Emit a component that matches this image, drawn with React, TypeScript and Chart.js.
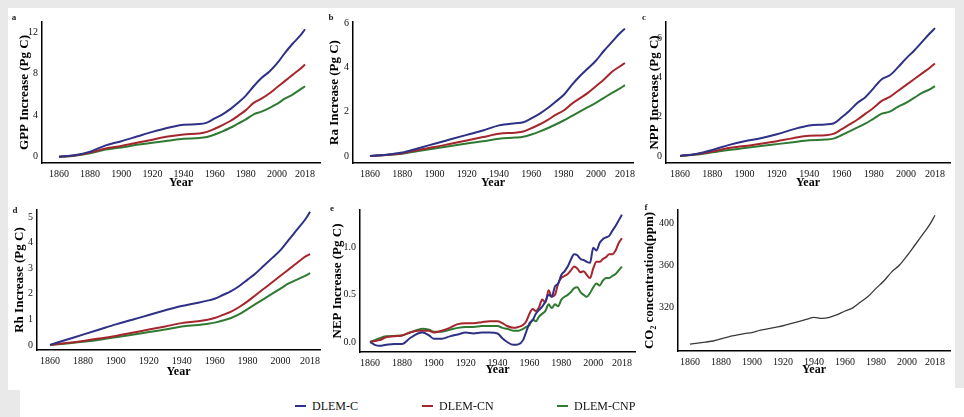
import React, { useEffect, useRef } from "react";
import { Chart, registerables } from "chart.js";
Chart.register(...registerables);

const FONT = "'Liberation Serif', 'Times New Roman', serif";

const SERIES_NAMES = ["DLEM-C", "DLEM-CN", "DLEM-CNP"];
const SERIES_COLORS = ["#2e3185", "#a5262c", "#2f7a33"];
const X_TICKS = [1860, 1880, 1900, 1920, 1940, 1960, 1980, 2000, 2018];

const YEARS = [1860, 1870, 1880, 1890, 1900, 1910, 1920, 1930, 1940, 1950, 1955, 1960, 1965, 1970, 1975, 1980, 1985, 1990, 1995, 2000, 2005, 2010, 2015, 2018];

const GPP_C = [0, 0.15, 0.5, 1.1, 1.5, 1.95, 2.4, 2.8, 3.1, 3.15, 3.3, 3.7, 4.1, 4.6, 5.2, 5.9, 6.8, 7.6, 8.2, 9.0, 10.0, 10.9, 11.7, 12.3];
const GPP_CN = [0, 0.12, 0.4, 0.8, 1.05, 1.35, 1.65, 1.95, 2.15, 2.25, 2.4, 2.7, 3.05, 3.45, 3.95, 4.5, 5.2, 5.6, 6.1, 6.7, 7.3, 7.9, 8.5, 8.9];
const GPP_CNP = [0, 0.1, 0.35, 0.7, 0.9, 1.15, 1.35, 1.55, 1.75, 1.8, 1.9, 2.15, 2.45, 2.8, 3.2, 3.6, 4.1, 4.35, 4.7, 5.1, 5.6, 6.0, 6.5, 6.8];

const RA_C = [0, 0.05, 0.15, 0.35, 0.55, 0.75, 0.95, 1.15, 1.38, 1.48, 1.52, 1.7, 1.9, 2.15, 2.45, 2.75, 3.2, 3.6, 3.95, 4.3, 4.75, 5.15, 5.55, 5.75];
const RA_CN = [0, 0.04, 0.12, 0.27, 0.4, 0.55, 0.7, 0.85, 1.0, 1.05, 1.1, 1.25, 1.42, 1.62, 1.85, 2.05, 2.35, 2.6, 2.85, 3.15, 3.45, 3.8, 4.05, 4.2];
const RA_CNP = [0, 0.04, 0.1, 0.22, 0.33, 0.45, 0.56, 0.66, 0.78, 0.83, 0.87, 0.97, 1.1, 1.25, 1.42, 1.6, 1.8, 2.0, 2.2, 2.4, 2.62, 2.85, 3.05, 3.2];

const NPP_C = [0, 0.1, 0.3, 0.55, 0.75, 0.9, 1.1, 1.35, 1.55, 1.6, 1.65, 1.95, 2.3, 2.7, 3.0, 3.45, 3.9, 4.1, 4.5, 4.95, 5.35, 5.8, 6.25, 6.5];
const NPP_CN = [0, 0.08, 0.22, 0.4, 0.5, 0.62, 0.75, 0.9, 1.02, 1.05, 1.12, 1.35, 1.6, 1.85, 2.15, 2.45, 2.8, 3.0, 3.3, 3.6, 3.9, 4.2, 4.5, 4.7];
const NPP_CNP = [0, 0.07, 0.18, 0.3, 0.4, 0.5, 0.6, 0.7, 0.8, 0.83, 0.88, 1.05, 1.25, 1.45, 1.65, 1.9, 2.15, 2.25, 2.5, 2.7, 2.95, 3.2, 3.4, 3.55];

const RH_C = [0, 0.2, 0.4, 0.6, 0.8, 0.98, 1.17, 1.35, 1.52, 1.65, 1.72, 1.8, 1.95, 2.1, 2.3, 2.55, 2.8, 3.1, 3.4, 3.7, 4.1, 4.5, 4.9, 5.2];
const RH_CN = [0, 0.07, 0.15, 0.25, 0.35, 0.47, 0.6, 0.72, 0.85, 0.92, 0.97, 1.05, 1.17, 1.3, 1.48, 1.7, 1.95, 2.2, 2.45, 2.7, 2.95, 3.2, 3.45, 3.55];
const RH_CNP = [0, 0.05, 0.12, 0.2, 0.3, 0.4, 0.5, 0.6, 0.72, 0.78, 0.82, 0.87, 0.95, 1.05, 1.2, 1.4, 1.6, 1.8, 2.0, 2.2, 2.4, 2.55, 2.7, 2.8];

const NEP_YEARS = [1860, 1863, 1866, 1870, 1875, 1880, 1885, 1890, 1893, 1897, 1900, 1905, 1910, 1915, 1920, 1925, 1930, 1935, 1940, 1943, 1946, 1950, 1953, 1956, 1958, 1960, 1962, 1964, 1966, 1968, 1970, 1972, 1974, 1976, 1978, 1980, 1982, 1984, 1986, 1988, 1990, 1992, 1994, 1996, 1998, 2000, 2002, 2004, 2006, 2008, 2010, 2012, 2014, 2016, 2018];
const NEP_C = [0, -0.03, -0.04, -0.03, -0.02, -0.02, 0.04, 0.09, 0.1, 0.07, 0.035, 0.035, 0.06, 0.08, 0.1, 0.09, 0.1, 0.1, 0.09, 0.04, 0.0, -0.03, -0.025, 0.02, 0.11, 0.2, 0.23, 0.3, 0.34, 0.375, 0.43, 0.5, 0.48, 0.59, 0.62, 0.71, 0.75, 0.8, 0.875, 0.93, 0.92, 0.88, 0.87, 0.85, 0.84, 1.0, 0.97, 1.05, 1.09, 1.11, 1.125, 1.18, 1.23, 1.29, 1.35];
const NEP_CN = [0, 0.01, 0.02, 0.05, 0.06, 0.07, 0.1, 0.12, 0.12, 0.12, 0.1, 0.12, 0.15, 0.19, 0.2, 0.2, 0.21, 0.22, 0.22, 0.2, 0.17, 0.15, 0.16, 0.18, 0.22, 0.3, 0.35, 0.33, 0.37, 0.45, 0.42, 0.55, 0.48, 0.5, 0.62, 0.68, 0.7, 0.72, 0.76, 0.8, 0.78, 0.74, 0.75, 0.71, 0.68, 0.78, 0.85, 0.85, 0.88, 0.9, 0.93, 0.93, 0.97, 1.05, 1.1];
const NEP_CNP = [0, 0.02, 0.04, 0.06, 0.065, 0.07, 0.1, 0.13, 0.14, 0.13, 0.11, 0.11, 0.13, 0.15, 0.16, 0.16, 0.17, 0.17, 0.17, 0.15, 0.14, 0.12, 0.12, 0.14, 0.16, 0.18, 0.24, 0.22, 0.27, 0.3, 0.33, 0.4, 0.36, 0.4, 0.38, 0.45, 0.48, 0.5, 0.53, 0.57, 0.58, 0.53, 0.5, 0.48, 0.52, 0.58, 0.62, 0.6, 0.65, 0.68, 0.68, 0.7, 0.72, 0.76, 0.8];

const CO2_YEARS = [1860, 1870, 1875, 1880, 1885, 1890, 1895, 1900, 1905, 1910, 1915, 1920, 1925, 1930, 1935, 1940, 1945, 1950, 1955, 1960, 1965, 1970, 1975, 1980, 1985, 1990, 1995, 2000, 2005, 2010, 2015, 2018];
const CO2_PPM = [285.5, 287.5, 288.5, 290.5, 292.5, 294, 295.5, 296.5, 298.5, 300, 301.5, 303, 305, 307, 309, 311, 310, 311, 313.5, 317, 320, 325.5, 331, 338.5, 345.5, 354, 360.5, 369.5, 379.5, 389.5, 400, 408];

type Series = { label: string; x: number[]; y: number[]; color: string; width: number };
type Panel = {
  letter: string;
  yTitle: string;
  frame: { L: number; T: number; W: number; H: number };
  area: { l: number; t: number; r: number; b: number };
  xMin: number; xMax: number; yMin: number; yMax: number;
  yTicks: number[];
  yTitleX: number;
  yearY: number;
  letterPos: [number, number];
  fmt?: (v: number) => string;
  series: Series[];
};

const trio = (x: number[], c: number[], cn: number[], cnp: number[]): Series[] => [
  { label: SERIES_NAMES[0], x, y: c, color: SERIES_COLORS[0], width: 2 },
  { label: SERIES_NAMES[1], x, y: cn, color: SERIES_COLORS[1], width: 2 },
  { label: SERIES_NAMES[2], x, y: cnp, color: SERIES_COLORS[2], width: 2 },
];

const PANELS: Panel[] = [
  { letter: "a", yTitle: "GPP Increase (Pg C)", frame: { L: 8, T: 8, W: 322, H: 190 }, area: { l: 42, t: 22, r: 320, b: 163 },
    xMin: 1849.1, xMax: 2027.6, yMin: -0.6, yMax: 13.0, yTicks: [0, 4, 8, 12], yTitleX: 25, yearY: 183, letterPos: [14, 17],
    series: trio(YEARS, GPP_C, GPP_CN, GPP_CNP) },
  { letter: "b", yTitle: "Ra Increase (Pg C)", frame: { L: 320, T: 8, W: 322, H: 190 }, area: { l: 353, t: 22, r: 633, b: 163 },
    xMin: 1849.5, xMax: 2023, yMin: -0.32, yMax: 6.05, yTicks: [0, 2, 4, 6], yTitleX: 335, yearY: 183, letterPos: [331, 17],
    series: trio(YEARS, RA_C, RA_CN, RA_CNP) },
  { letter: "c", yTitle: "NPP Increase (Pg C)", frame: { L: 636, T: 8, W: 320, H: 190 }, area: { l: 666, t: 22, r: 950, b: 163 },
    xMin: 1851.3, xMax: 2027.3, yMin: -0.36, yMax: 6.81, yTicks: [0, 2, 4, 6], yTitleX: 655, yearY: 183, letterPos: [644, 17],
    series: trio(YEARS, NPP_C, NPP_CN, NPP_CNP) },
  { letter: "d", yTitle: "Rh Increase (Pg C)", frame: { L: 8, T: 198, W: 322, H: 184 }, area: { l: 37, t: 210, r: 320, b: 350 },
    xMin: 1852.1, xMax: 2024, yMin: -0.2, yMax: 5.27, yTicks: [0, 1, 2, 3, 4, 5], yTitleX: 20, yearY: 372, letterPos: [15, 210],
    series: trio(YEARS, RH_C, RH_CN, RH_CNP) },
  { letter: "e", yTitle: "NEP Increase (Pg C)", frame: { L: 320, T: 198, W: 322, H: 184 }, area: { l: 360, t: 210, r: 635, b: 352 },
    xMin: 1853.7, xMax: 2026.2, yMin: -0.106, yMax: 1.4, yTicks: [0, 0.5, 1.0], yTitleX: 338, yearY: 370, letterPos: [332, 208],
    fmt: (v) => v.toFixed(1),
    series: trio(NEP_YEARS, NEP_C, NEP_CN, NEP_CNP) },
  { letter: "f", yTitle: "CO\u2082 concentration(ppm)", frame: { L: 636, T: 198, W: 320, H: 184 }, area: { l: 678, t: 210, r: 950, b: 351 },
    xMin: 1852.3, xMax: 2027.7, yMin: 279, yMax: 413, yTicks: [320, 360, 400], yTitleX: 650, yearY: 370, letterPos: [646, 207],
    series: [{ label: "CO2", x: CO2_YEARS, y: CO2_PPM, color: "#3a3a3a", width: 1.3 }] },
];

function buildConfig(p: Panel): any {
  const padTop = p.area.t - p.frame.T;
  const padRight = p.frame.L + p.frame.W - p.area.r;
  const yWidth = p.area.l - p.frame.L;
  const xHeight = p.frame.T + p.frame.H - p.area.b;
  const yTitleLH = 13 * 1.2;
  const xTitleLH = 12 * 1.2;
  const yTitlePad = p.yTitleX - p.frame.L - yTitleLH / 2;
  const xTitlePad = p.frame.T + p.frame.H - p.yearY - xTitleLH / 2;
  return {
    type: "line",
    data: {
      datasets: p.series.map((s) => ({
        label: s.label,
        data: s.x.map((x, i) => ({ x, y: s.y[i] })),
        borderColor: s.color,
        backgroundColor: s.color,
        borderWidth: s.width,
        pointRadius: 0,
        fill: false,
        cubicInterpolationMode: "monotone",
        tension: 0.4,
      })),
    },
    options: {
      animation: false,
      responsive: false,
      devicePixelRatio: 1,
      layout: { padding: { top: padTop, right: padRight, left: 0, bottom: 0 } },
      plugins: { legend: { display: false }, tooltip: { enabled: false } },
      scales: {
        x: {
          type: "linear",
          min: p.xMin,
          max: p.xMax,
          grid: { display: false, drawTicks: false },
          border: { display: true, color: "#000", width: 1.5 },
          ticks: {
            font: { family: FONT, size: 10 },
            color: "#111",
            padding: 5,
            maxRotation: 0,
            autoSkip: false,
            callback: (v: any) => String(v),
          },
          afterBuildTicks: (s: any) => {
            s.ticks = X_TICKS.map((v) => ({ value: v }));
          },
          afterFit: (s: any) => {
            s.height = xHeight;
          },
          title: {
            display: true,
            text: "Year",
            color: "#000",
            font: { family: FONT, size: 12, weight: "bold" },
            padding: { top: 0, bottom: Math.max(0, xTitlePad) },
          },
        },
        y: {
          type: "linear",
          min: p.yMin,
          max: p.yMax,
          grid: { display: false, drawTicks: false },
          border: { display: true, color: "#000", width: 1.5 },
          ticks: {
            font: { family: FONT, size: 10 },
            color: "#111",
            padding: 4,
            autoSkip: false,
            callback: (v: any) => (p.fmt ? p.fmt(Number(v)) : String(v)),
          },
          afterBuildTicks: (s: any) => {
            s.ticks = p.yTicks.map((v) => ({ value: v }));
          },
          afterFit: (s: any) => {
            s.width = yWidth;
          },
          title: {
            display: true,
            text: p.yTitle,
            color: "#000",
            font: { family: FONT, size: 13, weight: "bold" },
            padding: { top: Math.max(0, yTitlePad), bottom: 0 },
          },
        },
      },
    },
  };
}

function PanelChart({ p }: { p: Panel }) {
  const ref = useRef<HTMLCanvasElement | null>(null);
  useEffect(() => {
    if (!ref.current) return;
    const chart = new Chart(ref.current, buildConfig(p));
    return () => chart.destroy();
  }, [p]);
  return (
    <canvas
      ref={ref}
      width={p.frame.W}
      height={p.frame.H}
      style={{ position: "absolute", left: p.frame.L, top: p.frame.T, width: p.frame.W, height: p.frame.H }}
    />
  );
}

const LEGEND_POS = [295, 422, 557];

export default function App() {
  return (
    <div style={{ position: "fixed", left: 0, top: 0, width: 964, height: 417, background: "#e9e9e9", overflow: "hidden" }}>
      <div style={{ position: "absolute", left: 8, top: 8, width: 947, height: 382, background: "#fff" }} />
      <div style={{ position: "absolute", left: 20, top: 388, width: 944, height: 29, background: "#fff" }} />
      {PANELS.map((p) => (
        <PanelChart key={p.letter} p={p} />
      ))}
      {PANELS.map((p) => (
        <span
          key={"l" + p.letter}
          style={{
            position: "absolute",
            left: p.letterPos[0],
            top: p.letterPos[1],
            transform: "translate(-50%, -50%)",
            font: `bold 9px ${FONT}`,
            color: "#222",
          }}
        >
          {p.letter}
        </span>
      ))}
      {SERIES_NAMES.map((name, i) => (
        <div
          key={name}
          style={{ position: "absolute", left: LEGEND_POS[i], top: 398, height: 16, display: "flex", alignItems: "center", whiteSpace: "nowrap" }}
        >
          <span style={{ display: "inline-block", width: 11, height: 2.5, background: SERIES_COLORS[i], marginRight: 6 }} />
          <span style={{ font: `12px ${FONT}`, color: "#111" }}>{name}</span>
        </div>
      ))}
    </div>
  );
}
